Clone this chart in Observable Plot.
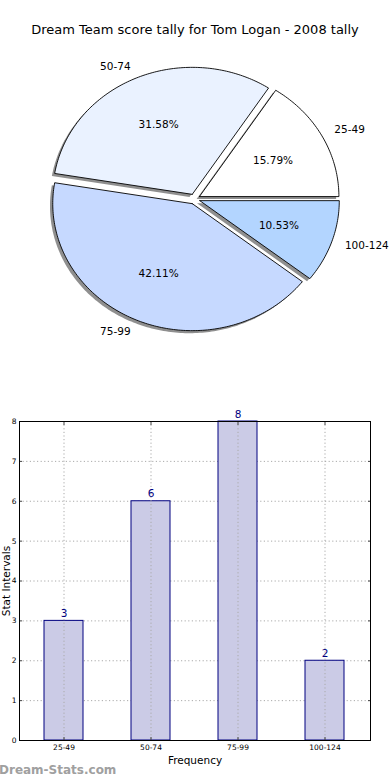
<!DOCTYPE html>
<html><head><meta charset="utf-8">
<script src="https://cdn.jsdelivr.net/npm/d3@7"></script>
<script src="https://cdn.jsdelivr.net/npm/@observablehq/plot@0.6"></script>
<style>
body{margin:0;background:#fff;font-family:"DejaVu Sans",sans-serif;}
#wrap{position:relative;width:390px;height:780px;overflow:hidden;background:#fff;}
#title{position:absolute;left:0;top:22px;width:390px;text-align:center;font-size:13px;line-height:15px;color:#000;}
#pie{position:absolute;left:0;top:40px;}
#bar{position:absolute;left:0;top:400px;}
#wm{position:absolute;left:-1px;top:763px;font-size:12px;line-height:14px;color:#a0a0a0;font-weight:bold;}
svg{font-family:"DejaVu Sans",sans-serif;}
</style></head><body>
<div id="wrap">
<div id="title">Dream Team score tally for Tom Logan - 2008 tally</div>
<div id="pie"></div>
<div id="bar"></div>
<div id="wm">Dream-Stats.com</div>
</div>
<script>
const categories = ["25-49", "50-74", "75-99", "100-124"];
const counts = [3, 6, 8, 2];
const pieColors = ["#ffffff", "#eaf2ff", "#c6d9ff", "#b3d5ff"];
const yTicks = [0, 1, 2, 3, 4, 5, 6, 7, 8];

// ---- pie geometry (built from the counts) ----
const total = d3.sum(counts);
const explode = 0.04;
const slices = [];
let acc = 0;
categories.forEach((c, i) => {
  const a0 = acc / total * 2 * Math.PI;
  acc += counts[i];
  const a1 = acc / total * 2 * Math.PI;
  const mid = (a0 + a1) / 2;
  slices.push({cat: c, count: counts[i], color: pieColors[i], a0, a1, mid,
    cx: explode * Math.cos(mid), cy: explode * Math.sin(mid)});
});
function slicePoints(s, dx, dy) {
  const pts = [{slice: s.cat, color: s.color, x: s.cx + dx, y: s.cy + dy}];
  const n = Math.max(8, Math.ceil((s.a1 - s.a0) / (Math.PI / 180)));
  for (let k = 0; k <= n; k++) {
    const a = s.a0 + (s.a1 - s.a0) * k / n;
    pts.push({slice: s.cat, color: s.color, x: s.cx + dx + Math.cos(a), y: s.cy + dy + Math.sin(a)});
  }
  pts.push({slice: s.cat, color: s.color, x: s.cx + dx, y: s.cy + dy});
  return pts;
}
const shadowPts = slices.flatMap(s => slicePoints(s, -0.02, -0.02));
const wedgePts = slices.flatMap(s => slicePoints(s, 0, 0));
const labels = slices.map(s => ({
  text: s.cat,
  pct: (s.count / total * 100).toFixed(2) + "%",
  lx: s.cx + 1.1 * Math.cos(s.mid), ly: s.cy + 1.1 * Math.sin(s.mid),
  px: s.cx + 0.6 * Math.cos(s.mid), py: s.cy + 0.6 * Math.sin(s.mid),
  right: Math.cos(s.mid) > 0
}));

const cxPix = 194, cyPix = 158.5, rx = 139.5, ry = 127;
const pie = Plot.plot({
  width: 390, height: 320,
  x: {domain: [-1, 1], range: [cxPix - rx, cxPix + rx], axis: null},
  y: {domain: [-1, 1], range: [cyPix + ry, cyPix - ry], axis: null},
  color: {type: "identity"},
  marks: [
    Plot.line(shadowPts, {x: "x", y: "y", z: "slice", fill: "#444", fillOpacity: 0.6, stroke: "none"}),
    Plot.line(wedgePts, {x: "x", y: "y", z: "slice", fill: "color", stroke: "#000", strokeWidth: 0.9, strokeLinejoin: "miter"}),
    Plot.text(labels.filter(d => d.right), {x: "lx", y: "ly", text: "text", textAnchor: "start", fontSize: 10.5, fill: "#000"}),
    Plot.text(labels.filter(d => !d.right), {x: "lx", y: "ly", text: "text", textAnchor: "end", fontSize: 10.5, fill: "#000"}),
    Plot.text(labels, {x: "px", y: "py", text: "pct", fontSize: 10.5, fill: "#000"})
  ]
});
document.getElementById("pie").appendChild(pie);

// ---- bar chart ----
const barData = categories.map((c, i) => ({cat: c, value: counts[i]}));
const bar = Plot.plot({
  width: 390, height: 380,
  marginLeft: 19, marginRight: 20, marginTop: 21, marginBottom: 40,
  x: {type: "band", domain: categories, paddingInner: 0.55, paddingOuter: 0.275, label: null},
  y: {domain: [0, 8], label: null},
  marks: [
    Plot.gridY(yTicks, {stroke: "#aaa", strokeOpacity: 1, strokeDasharray: "1.2,2.4"}),
    Plot.barY(barData, {x: "cat", y: "value", fill: "#cbcbe6", stroke: "#000080", strokeWidth: 1}),
    Plot.gridX(categories, {stroke: "#aaa", strokeOpacity: 1, strokeDasharray: "1.2,2.4"}),
    Plot.axisY(yTicks, {anchor: "left", tickSize: -3, tickPadding: 6, fontSize: 7.5, stroke: "#444", label: null}),
    Plot.axisY(yTicks, {anchor: "right", tickSize: -3, tickFormat: () => "", stroke: "#444", label: null}),
    Plot.axisX(categories, {anchor: "bottom", tickSize: -3, tickPadding: 7, fontSize: 7.5, stroke: "#444", label: null}),
    Plot.axisX(categories, {anchor: "top", tickSize: -3, tickFormat: () => "", stroke: "#444", label: null}),
    Plot.frame({stroke: "#000", strokeWidth: 1}),
    Plot.text(barData, {x: "cat", y: "value", text: d => String(d.value), dy: -4, lineAnchor: "bottom", fill: "#000080", fontSize: 10.5}),
    Plot.text(["Frequency"], {frameAnchor: "bottom", dy: 20, lineAnchor: "middle", textAnchor: "middle", fontSize: 10.5, fill: "#000"}),
    Plot.text(["Stat Intervals"], {frameAnchor: "left", dx: -12.5, rotate: -90, lineAnchor: "middle", textAnchor: "middle", fontSize: 10.5, fill: "#000"})
  ]
});
document.getElementById("bar").appendChild(bar);
</script>
</body></html>
